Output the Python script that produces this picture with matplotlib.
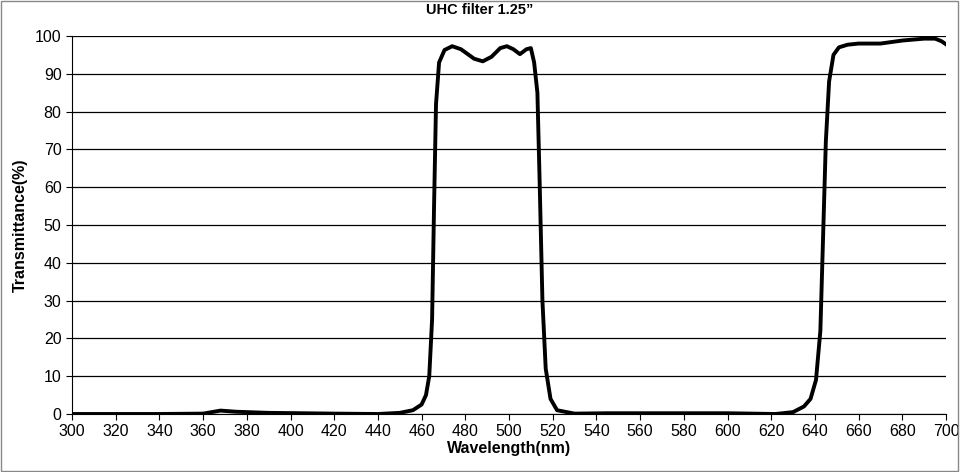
import matplotlib.pyplot as plt
from matplotlib.patches import Rectangle

plt.rcParams['font.family'] = ['Liberation Sans', 'DejaVu Sans']

# transmittance curve
wavelength = [300, 340, 360, 363, 368, 375, 390, 420, 440, 450, 456, 460, 462, 463.5,
              464.8, 465.7, 466.6, 468, 470.5, 474, 478, 484, 488, 492, 496, 499, 502,
              505, 508, 510, 511.5, 513, 514, 515.3, 516.8, 519, 522, 530, 545, 600, 622,
              630, 635, 638, 640.5, 642.5, 643.8, 645, 646.5, 648.5, 651, 655, 660, 670,
              680, 690, 695, 698, 700]
transmit = [0, 0, 0.1, 0.4, 0.9, 0.6, 0.3, 0.1, 0, 0.3, 1, 2.5, 5, 10,
            25, 55, 82, 93, 96.3, 97.3, 96.5, 94, 93.3, 94.5, 96.8, 97.3, 96.5,
            95.2, 96.5, 96.8, 93, 85, 62, 30, 12, 4, 1, 0.1, 0.2, 0.2, 0,
            0.5, 2, 4, 9, 22, 48, 72, 88, 95, 97, 97.7, 98, 98,
            98.8, 99.3, 99.3, 98.6, 97.8]

fig = plt.figure(figsize=(9.6, 4.72), dpi=100)
ax = fig.add_axes([72/960, 58/472, 874/960, 378/472])
ax.plot(wavelength, transmit, color='black', lw=2.8, solid_joinstyle='round')

ax.set_xlim(300, 700)
ax.set_ylim(0, 100)
ax.set_xticks(range(300, 701, 20))
ax.set_yticks(range(0, 101, 10))
ax.yaxis.grid(True, color='black', lw=0.9)
ax.set_axisbelow(True)
for s in ['top', 'right']:
    ax.spines[s].set_visible(False)
ax.tick_params(labelsize=11.5, length=4, direction='out')
ax.set_xlabel('Wavelength(nm)', fontsize=11.5, fontweight='bold', labelpad=1)
ax.set_ylabel('Transmittance(%)', fontsize=11.5, fontweight='bold', labelpad=5)
fig.text(0.5, 0.978, 'UHC filter 1.25\u201d', ha='center', va='center',
         fontsize=10.5, fontweight='bold')
fig.patches.append(Rectangle((0.001, 0.002), 0.997, 0.995, transform=fig.transFigure,
                             fill=False, ec='#888888', lw=1))

fig.savefig('out.png', dpi=100)
